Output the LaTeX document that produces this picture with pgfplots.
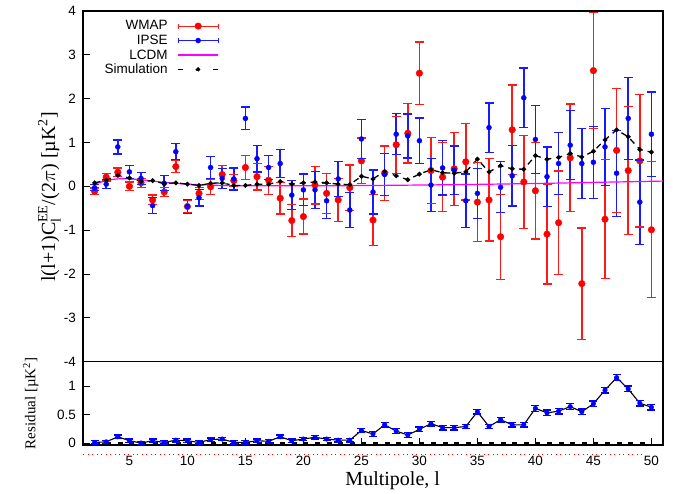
\documentclass[border=0pt]{standalone}
\usepackage{fontspec}
\setmainfont{Liberation Sans}
\newfontfamily\tnr{Liberation Serif}
\usepackage{amsmath}
\usepackage{pgfplots}
\usepackage{pgfplotstable}
\pgfplotsset{compat=1.18}
\definecolor{lcdm}{HTML}{FF00FF}
\definecolor{wred}{HTML}{FF1A1A}
\definecolor{iblue}{HTML}{1A1AFF}

% WMAP EE band powers: l, value, error
\pgfplotstableread{
l v e
2 -0.11 0.07
3 0.21 0.09
4 0.32 0.10
5 0.00 0.10
6 0.08 0.10
7 -0.31 0.11
8 -0.13 0.10
9 0.45 0.14
10 -0.46 0.15
11 -0.16 0.14
12 -0.01 0.17
13 0.27 0.20
14 0.13 0.14
15 0.43 0.27
16 0.22 0.30
17 0.14 0.32
18 -0.27 0.36
19 -0.78 0.36
20 -0.69 0.40
21 0.03 0.43
22 -0.16 0.46
23 -0.31 0.49
24 -0.03 0.52
25 0.58 0.52
26 -0.77 0.58
27 0.30 0.62
28 0.95 0.65
29 1.21 0.68
30 2.58 0.71
31 0.36 0.75
32 0.21 0.79
33 0.40 0.83
34 0.56 0.87
35 -0.36 0.90
36 -0.31 0.94
37 -1.15 0.97
38 1.29 1.02
39 0.10 1.06
40 -0.10 1.10
41 -1.09 1.14
42 -0.83 1.18
43 0.65 1.23
44 -2.22 1.27
45 2.64 1.32
46 -0.75 1.36
47 0.82 1.41
48 0.36 1.46
49 0.58 1.51
50 -0.99 1.55
}\wmap

\pgfplotstableread{
l v e
2 -0.03 0.07
3 0.05 0.10
4 0.90 0.16
5 0.33 0.15
6 0.18 0.13
7 -0.44 0.18
8 0.07 0.17
9 0.79 0.18
10 -0.46 0.16
11 -0.26 0.19
12 0.43 0.25
13 0.18 0.23
14 0.17 0.25
15 1.55 0.26
16 0.63 0.30
17 0.43 0.28
18 0.52 0.32
19 -0.20 0.33
20 -0.08 0.36
21 -0.08 0.42
22 -0.33 0.40
23 0.17 0.40
24 -0.54 0.40
25 1.08 0.44
26 -0.13 0.50
27 0.27 0.48
28 1.19 0.47
29 1.15 0.50
30 1.04 0.52
31 0.03 0.60
32 0.42 0.62
33 0.37 0.55
34 -0.33 0.61
35 -0.16 0.57
36 1.34 0.56
37 -0.02 0.58
38 0.24 0.69
39 2.02 0.68
40 1.07 0.78
41 0.22 0.68
42 0.52 0.71
43 0.94 0.79
44 0.52 0.80
45 0.55 0.82
46 0.90 0.88
47 0.30 0.98
48 1.55 0.94
49 -0.36 0.96
50 1.19 0.96
}\ipse

\pgfplotstableread{
l v
2 0.08
3 0.14
4 0.25
5 0.19
6 0.11
7 0.13
8 0.06
9 0.08
10 0.05
11 0.02
12 0.07
13 0.08
14 0.02
15 0.02
16 0.05
17 0.05
18 0.11
19 0.05
20 0.08
21 0.10
22 0.08
23 0.05
24 0.04
25 0.23
26 0.17
27 0.34
28 0.24
29 0.15
30 0.28
31 0.38
32 0.31
33 0.30
34 0.33
35 0.62
36 0.33
37 0.47
38 0.40
39 0.39
40 0.70
41 0.62
42 0.66
43 0.75
44 0.67
45 0.80
46 1.06
47 1.29
48 1.13
49 0.84
50 0.78
}\simu

\pgfplotstableread{
l v
2 0.05
3 0.13
4 0.17
5 0.17
6 0.15
7 0.12
8 0.09
9 0.07
10 0.05
11 0.04
12 0.03
13 0.02
15 0.015
20 0.012
25 0.018
30 0.03
35 0.045
40 0.065
45 0.09
51 0.12
}\lcdm

% residual: l, value, error
\pgfplotstableread{
l v e
2 0.01 0.03
3 0.02 0.03
4 0.11 0.03
5 0.04 0.03
6 0.00 0.03
7 0.04 0.03
8 0.01 0.03
9 0.05 0.03
10 0.04 0.03
11 0.01 0.03
12 0.06 0.03
13 0.07 0.03
14 0.01 0.03
15 0.01 0.03
16 0.04 0.03
17 0.03 0.03
18 0.11 0.03
19 0.04 0.03
20 0.07 0.03
21 0.10 0.03
22 0.07 0.03
23 0.05 0.03
24 0.05 0.03
25 0.22 0.04
26 0.16 0.04
27 0.32 0.04
28 0.21 0.04
29 0.14 0.04
30 0.24 0.04
31 0.34 0.04
32 0.27 0.04
33 0.27 0.04
34 0.29 0.04
35 0.55 0.04
36 0.29 0.04
37 0.41 0.04
38 0.32 0.04
39 0.32 0.04
40 0.61 0.05
41 0.53 0.05
42 0.56 0.05
43 0.64 0.05
44 0.55 0.05
45 0.69 0.05
46 0.93 0.05
47 1.15 0.05
48 0.95 0.05
49 0.70 0.05
50 0.63 0.05
}\resid

\pgfplotsset{
  caps/.style={only marks, mark=-, mark size=4.5pt, mark options={line width=1.3pt}, forget plot},
}

\begin{document}
\begin{tikzpicture}
\begin{axis}[
  name=main,
  scale only axis, width=580pt, height=350.7pt,
  xmin=1, xmax=51, ymin=-4, ymax=4,
  xtick=\empty, ytick={-4,-3,...,4}, ytick pos=left,
  tick align=inside, major tick length=7pt,
  axis line style={black, line width=1.2pt},
  tick style={black, line width=0.8pt},
  /pgf/number format/assume math mode=true,
  yticklabel style={font=\fontsize{13.5}{15}\selectfont, xshift=-3.5pt},
  ylabel={\tnr l(l+1)C$_{\text{l}}^{\text{EE}}$/(2$\pi$) [µK$^{\text{2}}$]},
  ylabel style={font=\fontsize{20}{22}\selectfont, at={(rel axis cs:-0.058,0.47)}, anchor=center},
  legend style={at={(rel axis cs:0.2345,0.978)}, anchor=north east, draw=none, fill=none,
    font=\fontsize{13.5}{15}\selectfont, row sep=0pt, inner sep=0pt,
    nodes={inner sep=1.8pt}},
  legend plot pos=right, legend cell align=right,
]
% WMAP: caps, then bars and points
\addplot[color=wred, caps] table[x=l, y expr=\thisrow{v}+\thisrow{e}] {\wmap};
\addplot[color=wred, caps] table[x=l, y expr=\thisrow{v}-\thisrow{e}] {\wmap};
\addplot[color=red, only marks, mark=*, mark size=3.3pt,
  legend image code/.code={
    \path (0pt,0pt);
    \draw[wred, line width=1.2pt] (8pt,0pt) -- (48pt,0pt) (8pt,-2.5pt) -- (8pt,2.5pt) (48pt,-2.5pt) -- (48pt,2.5pt);
    \fill[red] (28pt,0pt) circle (3.3pt);},
  error bars/.cd, y dir=both, y explicit, error mark=none,
  error bar style={color=wred, line width=1.5pt}]
  table[x=l, y=v, y error=e] {\wmap};
\addlegendentry{WMAP}
% IPSE
\addplot[color=iblue, caps] table[x=l, y expr=\thisrow{v}+\thisrow{e}] {\ipse};
\addplot[color=iblue, caps] table[x=l, y expr=\thisrow{v}-\thisrow{e}] {\ipse};
\addplot[color=blue, only marks, mark=*, mark size=2.5pt,
  legend image code/.code={
    \path (0pt,0pt);
    \draw[iblue, line width=1.2pt] (8pt,0pt) -- (48pt,0pt) (8pt,-2.5pt) -- (8pt,2.5pt) (48pt,-2.5pt) -- (48pt,2.5pt);
    \fill[blue] (28pt,0pt) circle (2.5pt);},
  error bars/.cd, y dir=both, y explicit, error mark=none,
  error bar style={color=iblue, line width=1.5pt}]
  table[x=l, y=v, y error=e] {\ipse};
\addlegendentry{IPSE}
\addplot[lcdm, line width=1.2pt, smooth, no marks,
  legend image code/.code={\path (0pt,0pt); \draw[lcdm, line width=1.2pt] (8pt,0pt) -- (48pt,0pt);}]
  table[x=l, y=v] {\lcdm};
\addlegendentry{LCDM}
\addplot[black, line width=1.3pt, dash pattern=on 6pt off 5pt, mark=*, mark size=1.7pt,
  mark options={solid},
  legend image code/.code={
    \path (0pt,0pt);
    \draw[black, line width=1.3pt] (8pt,0pt) -- (13pt,0pt) (43pt,0pt) -- (48pt,0pt);
    \fill[black] (28pt,0pt) circle (1.8pt);}]
  table[x=l, y=v] {\simu};
\addlegendentry{Simulation}
\end{axis}

\begin{axis}[
  name=res, at={(main.south west)}, anchor=north west,
  scale only axis, width=580pt, height=83.3pt,
  xmin=1, xmax=51, ymin=-0.035, ymax=1.43,
  xtick={5,10,...,50}, xtick pos=bottom,
  ytick={0,0.5,1}, ytick pos=left,
  tick align=inside, major tick length=6.5pt,
  axis line style={black, line width=1.2pt},
  tick style={black, line width=0.8pt},
  clip=false,
  /pgf/number format/assume math mode=true,
  yticklabel style={font=\fontsize{13.5}{15}\selectfont, xshift=-3.5pt},
  xticklabel style={font=\fontsize{13.5}{15}\selectfont, yshift=-8pt},
  xlabel={\tnr Multipole, l},
  xlabel style={font=\fontsize{20}{22}\selectfont, at={(rel axis cs:0.534,-0.49)}, anchor=base},
  ylabel={\tnr Residual [µK$^{\text{2}}$]},
  ylabel style={font=\fontsize{15}{17}\selectfont, at={(rel axis cs:-0.09,0.5)}, anchor=center},
]
\addplot[red, line width=0.9pt, dash pattern=on 1pt off 3.5pt, forget plot]
  coordinates {(1,-0.194) (49.4,-0.194)};
\addplot[black, line width=1.1pt, dash pattern=on 5pt off 6.6pt, no marks]
  coordinates {(2,0) (50,0)};
\addplot[black, line width=1.1pt, no marks] table[x=l, y=v] {\resid};
\addplot[color=blue, caps, mark size=4pt] table[x=l, y expr=\thisrow{v}+\thisrow{e}] {\resid};
\addplot[color=blue, caps, mark size=4pt] table[x=l, y expr=\thisrow{v}-\thisrow{e}] {\resid};
\addplot[color=blue, only marks, mark=*, mark size=2.3pt,
  error bars/.cd, y dir=both, y explicit, error mark=none,
  error bar style={color=blue, line width=1.2pt}]
  table[x=l, y=v, y error=e] {\resid};
\end{axis}
\path[use as bounding box] ([xshift=-83pt, yshift=-129.3pt]main.south west) rectangle ([xshift=10pt, yshift=11pt]main.north east);
\end{tikzpicture}
\end{document}
